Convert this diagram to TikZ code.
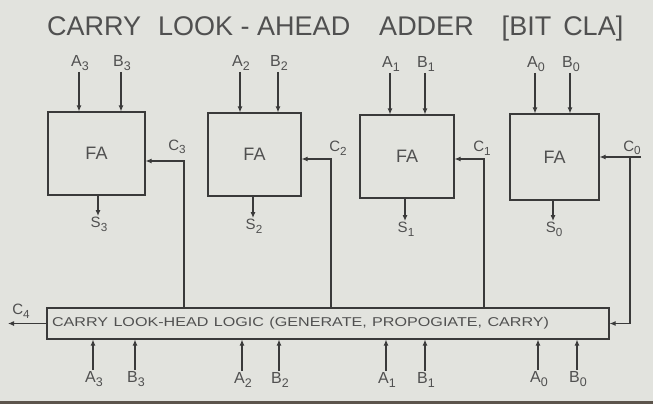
\documentclass[tikz,border=0pt]{standalone}
\usepackage{fontspec}
\setmainfont{Liberation Sans}
\usetikzlibrary{arrows.meta}
\definecolor{paper}{RGB}{226,227,222}
\definecolor{edgedark}{RGB}{92,84,76}
\definecolor{ink}{RGB}{58,58,58}
\definecolor{pencil}{RGB}{80,80,80}
\newcommand{\lsub}[1]{\raisebox{-0.45ex}{\scalebox{0.78}{#1}}}
\tikzset{
  fabox/.style={draw=ink, line width=1.1pt, inner sep=0pt, text=pencil,
    font=\fontsize{18}{18}\selectfont},
  arr/.style={draw=ink, line width=1.1pt, -{Latex[length=6pt,width=5pt]}},
  inlbl/.style={text=pencil, font=\fontsize{16}{16}\selectfont, inner sep=1.5pt},
  clbl/.style={text=pencil, font=\fontsize{15}{15}\selectfont, inner sep=1pt},
}
\begin{document}
\begin{tikzpicture}[x=1pt,y=-1pt]
\fill[paper] (0,0) rectangle (653,404);
\fill[edgedark] (0,401) rectangle (653,404);
\useasboundingbox (0,0) rectangle (653,404);

% title
\node[anchor=west, inner sep=0pt, text=pencil, font=\fontsize{27}{27}\selectfont] (title) at (47,29)
  {CARRY\hspace{17pt}LOOK - AHEAD\hspace{29pt}ADDER\hspace{28pt}[BIT\hspace{12pt}CLA]};

% full adders
\node[fabox, minimum width=97pt, minimum height=83pt] (fa3) at (96.5,153.5) {FA};
\node[fabox, minimum width=93pt, minimum height=83pt] (fa2) at (254.5,154.5) {FA};
\node[fabox, minimum width=94pt, minimum height=83pt] (fa1) at (407,156.5) {FA};
\node[fabox, minimum width=89pt, minimum height=86pt] (fa0) at (554.5,157) {FA};

% carry look-ahead logic box
\node[draw=ink, line width=1.1pt, minimum width=562pt, minimum height=31pt,
  text width=552pt, align=left, inner xsep=5pt, text=pencil,
  font=\fontsize{12.8}{12.8}\selectfont] (cla) at (328,323.5)
  {\scalebox{1.26}[1]{CARRY LOOK-HEAD LOGIC (GENERATE, PROPOGIATE, CARRY)}};

% top inputs
\node[inlbl, anchor=south] (ta3) at (80,72) {A\lsub{3}};
\node[inlbl, anchor=south] (tb3) at (122,72) {B\lsub{3}};
\node[inlbl, anchor=south] (ta2) at (241,72) {A\lsub{2}};
\node[inlbl, anchor=south] (tb2) at (279,72) {B\lsub{2}};
\node[inlbl, anchor=south] (ta1) at (391,73) {A\lsub{1}};
\node[inlbl, anchor=south] (tb1) at (426,73) {B\lsub{1}};
\node[inlbl, anchor=south] (ta0) at (536,73) {A\lsub{0}};
\node[inlbl, anchor=south] (tb0) at (571,73) {B\lsub{0}};
\foreach \l/\f in {ta3/fa3,tb3/fa3,ta2/fa2,tb2/fa2,ta1/fa1,tb1/fa1,ta0/fa0,tb0/fa0}
  \draw[arr] ([xshift=-1pt]\l.south) -- ([xshift=-1pt]\l.south |- \f.north);

% sum outputs
\node[clbl, anchor=north] (s3) at (99,216) {S\lsub{3}};
\node[clbl, anchor=north] (s2) at (254,218) {S\lsub{2}};
\node[clbl, anchor=north] (s1) at (406,221) {S\lsub{1}};
\node[clbl, anchor=north] (s0) at (554,221) {S\lsub{0}};
\foreach \s/\f in {s3/fa3,s2/fa2,s1/fa1,s0/fa0}
  \draw[arr] ([xshift=-1pt]\s.north |- \f.south) -- ([xshift=-1pt]\s.north);

% carries into full adders
\coordinate (k3) at (184,161);
\coordinate (k2) at (331,159);
\coordinate (k1) at (484,159);
\coordinate (k0) at (630,157);
\coordinate (c0in) at (641,157);
\draw[arr] (k3 |- cla.north) -- (k3) -- (k3 -| fa3.east);
\draw[arr] (k2 |- cla.north) -- (k2) -- (k2 -| fa2.east);
\draw[arr] (k1 |- cla.north) -- (k1) -- (k1 -| fa1.east);
\draw[arr] (c0in) -- (c0in -| fa0.east);
\draw[arr] (k0) -- (k0 |- cla.east) -- (cla.east);
\node[clbl] (c3) at (177,147) {C\lsub{3}};
\node[clbl] (c2) at (338,148) {C\lsub{2}};
\node[clbl] (c1) at (482,148) {C\lsub{1}};
\node[clbl] (c0) at (632,148) {C\lsub{0}};

% carry out
\coordinate (c4out) at (8,323.5);
\draw[arr] (cla.west) -- (c4out);
\node[clbl] (c4) at (21,311) {C\lsub{4}};

% bottom inputs
\node[inlbl, anchor=north] (ba3) at (94,370) {A\lsub{3}};
\node[inlbl, anchor=north] (bb3) at (136,370) {B\lsub{3}};
\node[inlbl, anchor=north] (ba2) at (243,371) {A\lsub{2}};
\node[inlbl, anchor=north] (bb2) at (280,371) {B\lsub{2}};
\node[inlbl, anchor=north] (ba1) at (387,371) {A\lsub{1}};
\node[inlbl, anchor=north] (bb1) at (426,371) {B\lsub{1}};
\node[inlbl, anchor=north] (ba0) at (539,370) {A\lsub{0}};
\node[inlbl, anchor=north] (bb0) at (578,370) {B\lsub{0}};
\foreach \l in {ba3,bb3,ba2,bb2,ba1,bb1,ba0,bb0}
  \draw[arr] ([xshift=-1pt]\l.north) -- ([xshift=-1pt]\l.north |- cla.south);
\end{tikzpicture}
\end{document}
